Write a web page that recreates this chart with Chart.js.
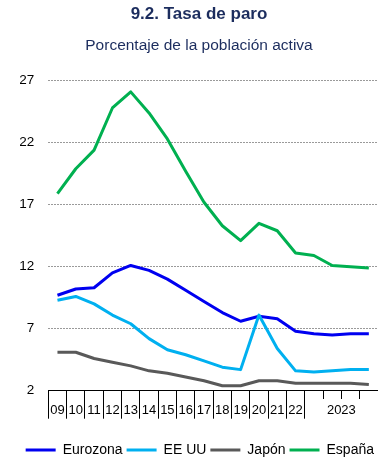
<!DOCTYPE html>
<html lang="es">
<head>
<meta charset="utf-8">
<title>9.2. Tasa de paro</title>
<script src="https://cdn.jsdelivr.net/npm/chart.js@4.4.1/dist/chart.umd.min.js"></script>
<style>
  html, body { margin: 0; padding: 0; background: #ffffff; }
  #wrap { position: relative; width: 378px; height: 460px; }
</style>
</head>
<body>
<div id="wrap"><canvas id="chart"></canvas></div>
<script>
// Annual data 2009-2022, then the four quarters of 2023
const categories = ['2009', '2010', '2011', '2012', '2013', '2014', '2015', '2016', '2017',
  '2018', '2019', '2020', '2021', '2022', '2023 T1', '2023 T2', '2023 T3', '2023 T4'];
const yearTicks = ['09', '10', '11', '12', '13', '14', '15', '16', '17', '18', '19', '20', '21', '22'];
const quarterGroupLabel = '2023';
const yTicks = [2, 7, 12, 17, 22, 27];

const eurozona = [9.7, 10.2, 10.3, 11.5, 12.1, 11.7, 11.0, 10.1, 9.2, 8.3, 7.6, 8.0, 7.8, 6.8, 6.6, 6.5, 6.6, 6.6];
const eeuu     = [9.3, 9.6, 9.0, 8.1, 7.4, 6.2, 5.3, 4.9, 4.4, 3.9, 3.7, 8.1, 5.4, 3.6, 3.5, 3.6, 3.7, 3.7];
const japon    = [5.1, 5.1, 4.6, 4.3, 4.0, 3.6, 3.4, 3.1, 2.8, 2.4, 2.4, 2.8, 2.8, 2.6, 2.6, 2.6, 2.6, 2.5];
const espana   = [17.9, 19.9, 21.4, 24.8, 26.1, 24.4, 22.3, 19.7, 17.2, 15.3, 14.1, 15.5, 14.9, 13.1, 12.9, 12.1, 12.0, 11.9];

const SANS = "'Liberation Sans', Arial, Helvetica, sans-serif";
const NAVY = '#1c2d5e';

function fontAvailable(name) {
  const c = document.createElement('canvas').getContext('2d');
  c.font = '40px monospace';
  const base = c.measureText('0923 abc').width;
  c.font = '40px "' + name + '", monospace';
  return c.measureText('0923 abc').width !== base;
}
const narrow = fontAvailable('Liberation Sans Narrow');
const xFont = narrow
  ? { family: "'Liberation Sans Narrow', " + SANS, size: 15 }
  : { family: SANS, size: 13 };
const xLineHeight = xFont.size * 1.2;
const TICK_LEN = 28;
const LABEL_CENTER = 19.5;             // label centre below the axis line
const xLabelPad = LABEL_CENTER - TICK_LEN - xLineHeight / 2;

// "2023" is written once, centred under its four quarterly slots
const quarterLabelPlugin = {
  id: 'quarterLabel',
  afterDraw(chart) {
    const xs = chart.scales.x;
    const first = xs.getPixelForValue(yearTicks.length);
    const last = xs.getPixelForValue(categories.length - 1);
    const ctx = chart.ctx;
    ctx.save();
    ctx.font = xFont.size + 'px ' + xFont.family;
    ctx.fillStyle = '#000000';
    ctx.textAlign = 'center';
    ctx.textBaseline = 'middle';
    ctx.fillText(quarterGroupLabel, (first + last) / 2, xs.top + TICK_LEN + xLabelPad + xLineHeight / 2);
    ctx.restore();
  }
};

function series(label, data, color, order) {
  return {
    label, data, order,
    borderColor: color,
    backgroundColor: color,
    borderWidth: 3,
    pointRadius: 0,
    pointHoverRadius: 0,
    tension: 0,
    borderJoinStyle: 'round',
    fill: false
  };
}

new Chart(document.getElementById('chart'), {
  type: 'line',
  data: {
    labels: categories,
    datasets: [
      series('Eurozona', eurozona, '#0000f0', 1),
      series('EE UU', eeuu, '#00b0f0', 0),
      series('Japón', japon, '#595959', 1),
      series('España', espana, '#00b050', 1)
    ]
  },
  options: {
    responsive: true,
    maintainAspectRatio: false,
    animation: false,
    layout: { padding: { left: 20, right: 0, top: 0, bottom: -7 } },
    plugins: {
      tooltip: { enabled: false },
      title: {
        display: true,
        text: '9.2. Tasa de paro',
        color: NAVY,
        font: { family: SANS, size: 17, weight: 'bold' },
        padding: { top: 4, bottom: 6 }
      },
      subtitle: {
        display: true,
        text: 'Porcentaje de la población activa',
        color: NAVY,
        font: { family: SANS, size: 15.5, weight: 'normal' },
        padding: { top: 5.8, bottom: 25.9 }
      },
      legend: {
        position: 'bottom',
        align: 'end',
        labels: {
          usePointStyle: true,
          pointStyle: 'line',
          pointStyleWidth: 30,
          padding: 4,
          color: '#000000',
          font: { family: SANS, size: 14 },
          sort: (a, b) => a.datasetIndex - b.datasetIndex
        }
      }
    },
    scales: {
      x: {
        type: 'category',
        offset: true,
        afterFit: (s) => { s.height = 48.3; },
        border: { display: true, color: '#000000', width: 1 },
        grid: {
          offset: true,
          drawOnChartArea: false,
          drawTicks: true,
          tickLength: TICK_LEN,
          tickWidth: 1,
          tickColor: (ctx) => (ctx.type === 'tick' ? '#000000' : 'rgba(0,0,0,0)'),
          tickBorderDash: (ctx) => (ctx.type === 'tick' && ctx.index > yearTicks.length ? [8, 60] : [])
        },
        ticks: {
          autoSkip: false,
          maxRotation: 0,
          minRotation: 0,
          padding: xLabelPad,
          color: '#000000',
          font: xFont,
          callback: (v, i) => (i < yearTicks.length ? yearTicks[i] : '')
        }
      },
      y: {
        min: 2,
        max: 27,
        afterFit: (s) => { s.width = 28.3; },
        afterBuildTicks: (s) => { s.ticks = yTicks.map((v) => ({ value: v })); },
        // dotted horizontal reference lines, no vertical axis line
        border: { display: false, dash: [2, 1] },
        grid: {
          drawTicks: false,
          color: (ctx) => (ctx.tick && ctx.tick.value === 2 ? 'rgba(0,0,0,0)' : '#9a9a9a'),
          lineWidth: 1
        },
        ticks: {
          padding: 14,
          color: '#000000',
          font: { family: SANS, size: 13.5 }
        }
      }
    }
  },
  plugins: [quarterLabelPlugin]
});
</script>
</body>
</html>
